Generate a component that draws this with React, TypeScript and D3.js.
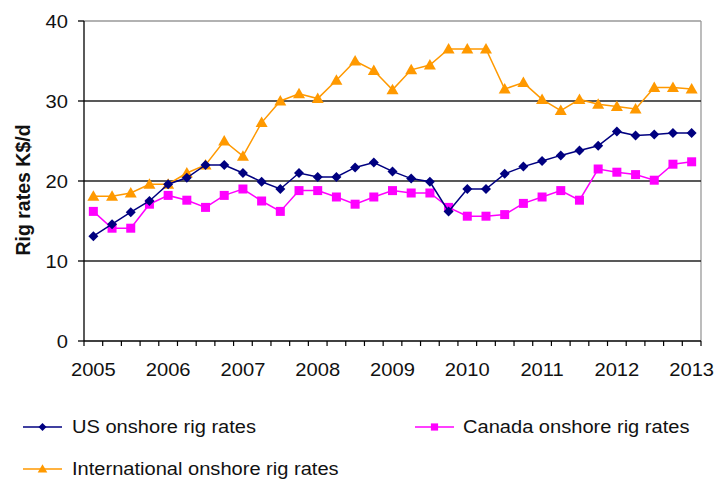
import React from "react";
import * as d3 from "d3";

const yearLabels = ["2005", "2006", "2007", "2008", "2009", "2010", "2011", "2012", "2013"];
const yTicks = [0, 10, 20, 30, 40];

const usRates = [13.1, 14.6, 16.1, 17.5, 19.6, 20.4, 22.0, 22.0, 21.0, 19.9, 19.0, 21.0, 20.5, 20.5, 21.7, 22.3, 21.2, 20.3, 19.9, 16.2, 19.0, 19.0, 20.9, 21.8, 22.5, 23.2, 23.8, 24.4, 26.2, 25.7, 25.8, 26.0, 26.0];
const canadaRates = [16.2, 14.1, 14.1, 17.1, 18.2, 17.6, 16.7, 18.2, 19.0, 17.5, 16.2, 18.8, 18.8, 18.0, 17.1, 18.0, 18.8, 18.5, 18.5, 16.7, 15.6, 15.6, 15.8, 17.2, 18.0, 18.8, 17.6, 21.5, 21.1, 20.8, 20.1, 22.1, 22.4];
const intlRates = [18.1, 18.1, 18.5, 19.6, 19.6, 21.0, 22.0, 25.0, 23.1, 27.3, 30.0, 30.9, 30.3, 32.6, 35.0, 33.8, 31.4, 33.9, 34.5, 36.5, 36.5, 36.5, 31.5, 32.3, 30.2, 28.8, 30.2, 29.6, 29.3, 29.0, 31.7, 31.7, 31.5];

const seriesNames = ["US onshore rig rates", "Canada onshore rig rates", "International onshore rig rates"];

const W = 716, H = 479;
const L = 84, R = 701, T = 21, B = 341;
const font = "'Liberation Sans', Arial, sans-serif";

function Marker({ kind, x, y, color, size = 1 }: { kind: string; x: number; y: number; color: string; size?: number }) {
  if (kind === "diamond") {
    const s = 5 * size;
    return <path d={`M${x},${y - s}L${x + s},${y}L${x},${y + s}L${x - s},${y}Z`} fill={color} />;
  }
  if (kind === "square") {
    const s = 4.5 * size;
    return <rect x={x - s} y={y - s} width={2 * s} height={2 * s} fill={color} />;
  }
  const s = 6 * size;
  return <path d={`M${x},${y - s}L${x + s},${y + s * 0.75}L${x - s},${y + s * 0.75}Z`} fill={color} />;
}

function T2({ x, y, anchor = "start", size = 18, sx = 1.12, children }: { x: number; y: number; anchor?: string; size?: number; sx?: number; children: React.ReactNode }) {
  return (
    <text transform={`translate(${x},${y}) scale(${sx},1)`} dy="0.35em" textAnchor={anchor} fontSize={size} fill="#111">
      {children}
    </text>
  );
}

export default function App() {
  const n = usRates.length;
  const idx = d3.range(n);
  const x = d3.scaleBand<number>().domain(idx).range([L, R]);
  const cx = (i: number) => (x(i) as number) + x.bandwidth() / 2;
  const y = d3.scaleLinear().domain([0, 40]).range([B, T]);
  const line = d3.line<number>().x((_, i) => cx(i)).y((d) => y(d));

  const series = [
    { name: seriesNames[0], data: usRates, color: "#000080", kind: "diamond" },
    { name: seriesNames[1], data: canadaRates, color: "#FF00FF", kind: "square" },
    { name: seriesNames[2], data: intlRates, color: "#FF9900", kind: "triangle" },
  ];

  const legendPos = [
    { lx: 23, ly: 427, tx: 72 },
    { lx: 415, ly: 427, tx: 463 },
    { lx: 23, ly: 469, tx: 72 },
  ];

  return (
    <svg width={W} height={H} style={{ position: "absolute", left: 0, top: 0, background: "#fff" }} fontFamily={font}>
      {/* plot border (top/right) */}
      <line x1={L} x2={R} y1={T} y2={T} stroke="#999" strokeWidth={1.3} />
      <line x1={R} x2={R} y1={T} y2={B} stroke="#999" strokeWidth={1.3} />
      {/* gridlines */}
      {yTicks.filter((t) => t > 0 && t < 40).map((t) => (
        <line key={t} x1={L} x2={R} y1={y(t)} y2={y(t)} stroke="#222" strokeWidth={1.3} />
      ))}
      {/* y axis */}
      <line x1={L} x2={L} y1={T} y2={B} stroke="#000" strokeWidth={1.3} />
      {yTicks.map((t) => (
        <g key={t}>
          <line x1={L - 6} x2={L} y1={y(t)} y2={y(t)} stroke="#000" strokeWidth={1.3} />
          <T2 x={68} y={y(t) + 0.5} anchor="end">{t}</T2>
        </g>
      ))}
      {/* x axis */}
      <line x1={L} x2={R} y1={B} y2={B} stroke="#000" strokeWidth={1.3} />
      {d3.range(n + 1).map((i) => {
        const xx = i < n ? (x(i) as number) : R;
        return <line key={i} x1={xx} x2={xx} y1={B} y2={B + 5} stroke="#000" strokeWidth={1.2} />;
      })}
      {yearLabels.map((lab, k) => (
        <T2 key={lab} x={cx(k * 4)} y={370} anchor="middle">{lab}</T2>
      ))}
      <text transform={`translate(23,${190}) rotate(-90)`} textAnchor="middle" dy="0.35em" fontSize={19.5} fontWeight="bold" fill="#111">Rig rates K$/d</text>
      {/* series */}
      {[2, 1, 0].map((si) => {
        const s = series[si];
        return (
          <g key={s.name}>
            <path d={line(s.data) || ""} fill="none" stroke={s.color} strokeWidth={1.5} />
            {s.data.map((v, i) => (
              <Marker key={i} kind={s.kind} x={cx(i)} y={y(v)} color={s.color} />
            ))}
          </g>
        );
      })}
      {/* legend */}
      {series.map((s, si) => {
        const p = legendPos[si];
        return (
          <g key={s.name}>
            <line x1={p.lx} x2={p.lx + 39} y1={p.ly} y2={p.ly} stroke={s.color} strokeWidth={1.6} />
            <Marker kind={s.kind} x={p.lx + 19.5} y={p.ly} color={s.color} size={0.8} />
            <T2 x={p.tx} y={p.ly} size={18.5} sx={1.085}>{s.name}</T2>
          </g>
        );
      })}
    </svg>
  );
}
